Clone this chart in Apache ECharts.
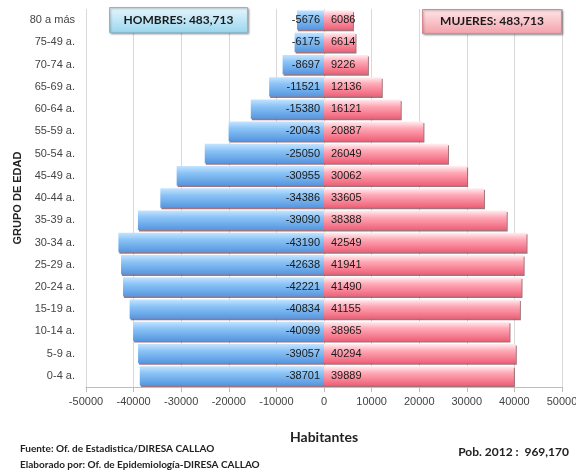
<!DOCTYPE html>
<html>
<head>
<meta charset="utf-8">
<script src="https://cdn.jsdelivr.net/npm/echarts@6/dist/echarts.min.js"></script>
<style>
  html, body { margin: 0; padding: 0; background: #fff; }
  #chart { width: 576px; height: 475px; }
</style>
</head>
<body>
<div id="chart"></div>
<script>
// Age groups, bottom (youngest) to top
const ageGroups = ["0-4 a.", "5-9 a.", "10-14 a.", "15-19 a.", "20-24 a.", "25-29 a.", "30-34 a.",
  "35-39 a.", "40-44 a.", "45-49 a.", "50-54 a.", "55-59 a.", "60-64 a.", "65-69 a.", "70-74 a.",
  "75-49 a.", "80 a más"];
// Males drawn to the left as negative values
const hombres = [-38701, -39057, -40099, -40834, -42221, -42638, -43190, -39090, -34386, -30955,
  -25050, -20043, -15380, -11521, -8697, -6175, -5676];
const mujeres = [39889, 40294, 38965, 41155, 41490, 41941, 42549, 38388, 33605, 30062,
  26049, 20887, 16121, 12136, 9226, 6614, 6086];
const xTicks = [-50000, -40000, -30000, -20000, -10000, 0, 10000, 20000, 30000, 40000, 50000];
const totalHombres = "483,713";
const totalMujeres = "483,713";
const poblacion = "969,170";

const chart = echarts.init(document.getElementById('chart'), null, { renderer: 'canvas' });

const blueFill = new echarts.graphic.LinearGradient(0, 0, 0, 1, [
  { offset: 0, color: '#c4e4ff' },
  { offset: 0.35, color: '#8cc4f6' },
  { offset: 1, color: '#5596e0' }
]);
const pinkFill = new echarts.graphic.LinearGradient(0, 0, 0, 1, [
  { offset: 0, color: '#ffeef1' },
  { offset: 0.35, color: '#ffa9b6' },
  { offset: 1, color: '#ee6078' }
]);
const barShadow = {
  shadowColor: 'rgba(130,70,80,0.75)',
  shadowOffsetX: 1,
  shadowOffsetY: 1.5,
  shadowBlur: 0
};
const labelFont = { fontFamily: 'Arial, "Liberation Sans", sans-serif', fontSize: 11, color: '#1a1a1a' };

const option = {
  animation: false,
  backgroundColor: '#ffffff',
  grid: { left: 86, right: 14, top: 9, bottom: 88, outerBoundsMode: 'none', containLabel: false },
  xAxis: {
    type: 'value',
    min: -50000,
    max: 50000,
    interval: 10000,
    axisLine: { show: true, lineStyle: { color: '#bdbdbd' } },
    axisTick: { show: true, length: 5, lineStyle: { color: '#bdbdbd' } },
    axisLabel: {
      color: '#444', fontSize: 11, fontFamily: 'Arial, "Liberation Sans", sans-serif', margin: 9,
      hideOverlap: false,
      formatter: v => xTicks.includes(v) ? String(v) : ''
    },
    splitLine: { show: true, lineStyle: { color: '#d9d9d9', width: 1 } }
  },
  yAxis: {
    type: 'category',
    data: ageGroups,
    axisLine: { show: false },
    axisTick: { show: false },
    splitLine: { show: false },
    axisLabel: { color: '#444', fontSize: 11, fontFamily: 'Arial, "Liberation Sans", sans-serif', margin: 11 }
  },
  series: [
    {
      name: 'Hombres',
      type: 'bar',
      data: hombres,
      barGap: '-100%',
      barCategoryGap: '13%',
      itemStyle: Object.assign({ color: blueFill }, barShadow),
      label: Object.assign({ show: true, position: 'insideRight', distance: 4 }, labelFont)
    },
    {
      name: 'Mujeres',
      type: 'bar',
      data: mujeres,
      barGap: '-100%',
      barCategoryGap: '13%',
      itemStyle: Object.assign({ color: pinkFill }, barShadow),
      label: Object.assign({ show: true, position: 'insideLeft', distance: 7 }, labelFont)
    }
  ],
  graphic: [
    {
      type: 'group', left: 109, top: 7, z: 100,
      children: [
        {
          type: 'rect', z: 100, shape: { x: 0, y: 0, width: 138, height: 25 },
          style: {
            fill: new echarts.graphic.LinearGradient(0, 0, 0, 1, [
              { offset: 0, color: '#e6f7fd' }, { offset: 1, color: '#9ad6ee' }
            ]),
            stroke: '#8ab9cf', lineWidth: 1,
            shadowColor: 'rgba(0,0,0,0.3)', shadowBlur: 2, shadowOffsetX: 1, shadowOffsetY: 1
          }
        },
        {
          type: 'text', z: 101, x: 69, y: 12.5,
          style: {
            text: 'HOMBRES: ' + totalHombres, align: 'center', verticalAlign: 'middle',
            font: 'bold 12px Lato, "Open Sans", sans-serif', fill: '#1a1a1a'
          }
        }
      ]
    },
    {
      type: 'group', left: 422, top: 9, z: 100,
      children: [
        {
          type: 'rect', z: 100, shape: { x: 0, y: 0, width: 139, height: 24 },
          style: {
            fill: new echarts.graphic.LinearGradient(0, 0, 0, 1, [
              { offset: 0, color: '#ffe6e9' }, { offset: 1, color: '#f3a1aa' }
            ]),
            stroke: '#d58a92', lineWidth: 1,
            shadowColor: 'rgba(0,0,0,0.3)', shadowBlur: 2, shadowOffsetX: 1, shadowOffsetY: 1
          }
        },
        {
          type: 'text', z: 101, x: 69.5, y: 12,
          style: {
            text: 'MUJERES: ' + totalMujeres, align: 'center', verticalAlign: 'middle',
            font: 'bold 12px Lato, "Open Sans", sans-serif', fill: '#1a1a1a'
          }
        }
      ]
    },
    {
      type: 'text', x: 18, y: 198, rotation: Math.PI / 2,
      style: {
        text: 'GRUPO DE EDAD', align: 'center', verticalAlign: 'middle',
        font: 'bold 11px Arial, "Liberation Sans", sans-serif', fill: '#222'
      }
    },
    {
      type: 'text', x: 324, y: 437,
      style: {
        text: 'Habitantes', align: 'center', verticalAlign: 'middle',
        font: 'bold 14px Lato, "Open Sans", sans-serif', fill: '#222'
      }
    },
    {
      type: 'text', x: 20, y: 449,
      style: {
        text: 'Fuente: Of. de Estadistica/DIRESA CALLAO', align: 'left', verticalAlign: 'middle',
        font: 'bold 10px Lato, "Open Sans", sans-serif', fill: '#222'
      }
    },
    {
      type: 'text', x: 20, y: 465,
      style: {
        text: 'Elaborado por: Of. de Epidemiología-DIRESA CALLAO', align: 'left', verticalAlign: 'middle',
        font: 'bold 10px Lato, "Open Sans", sans-serif', fill: '#222'
      }
    },
    {
      type: 'text', x: 569, y: 452,
      style: {
        text: 'Pob. 2012 :  ' + poblacion, align: 'right', verticalAlign: 'middle',
        font: 'bold 12px Lato, "Open Sans", sans-serif', fill: '#222'
      }
    }
  ]
};

chart.setOption(option);
</script>
</body>
</html>
